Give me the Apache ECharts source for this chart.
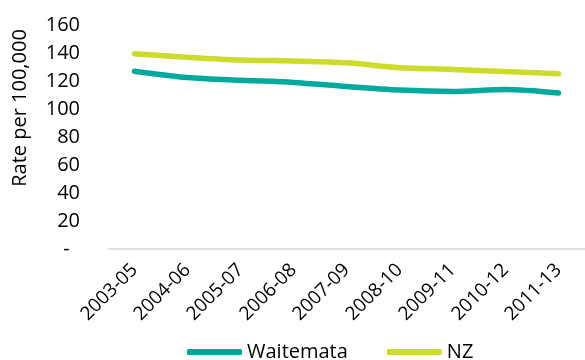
<!DOCTYPE html>
<html>
<head>
<meta charset="utf-8">
<script src="https://cdn.jsdelivr.net/npm/echarts@6/dist/echarts.min.js"></script>
<style>html,body{margin:0;padding:0;background:#fff}#c{width:585px;height:360px}</style>
</head>
<body>
<div id="c"></div>
<script>
const categories = ['2003-05','2004-06','2005-07','2006-08','2007-09','2008-10','2009-11','2010-12','2011-13'];
const waitemata = [127, 122.5, 120.5, 119, 116, 113.5, 112.5, 114, 111.5];
const nz = [139.5, 137, 135, 134.3, 133, 129.5, 128.3, 126.7, 125.2];
const yTicks = [0, 20, 40, 60, 80, 100, 120, 140, 160];
const yTitle = 'Rate per 100,000';

const FONT = 'Open Sans';
const chart = echarts.init(document.getElementById('c'), null, {renderer: 'canvas'});
chart.setOption({
  animation: false,
  textStyle: {fontFamily: FONT},
  grid: {left: 108, right: 0, top: 25, bottom: 111, containLabel: false},
  legend: {
    left: 182, top: 337,
    itemWidth: 55, itemHeight: 6, itemGap: 39,
    icon: 'roundRect',
    textStyle: {fontFamily: FONT, fontSize: 20, color: '#000'},
    data: ['Waitemata', 'NZ']
  },
  graphic: [{
    type: 'text', x: 20, y: 108, rotation: Math.PI / 2,
    style: {text: yTitle, fontFamily: FONT, fontSize: 20, fill: '#000', align: 'center', verticalAlign: 'middle'}
  }],
  xAxis: {
    type: 'category', data: categories, boundaryGap: true,
    axisLine: {lineStyle: {color: '#d9d9d9', width: 1.5}},
    axisTick: {show: false},
    axisLabel: {rotate: 45, fontSize: 19, color: '#000', margin: 18, interval: 0, fontFamily: FONT,
      padding: [20, 0, 0, 0]}
  },
  yAxis: {
    type: 'value', min: yTicks[0], max: yTicks[yTicks.length - 1], interval: 20,
    splitLine: {show: false},
    axisLine: {show: false}, axisTick: {show: false},
    axisLabel: {fontSize: 20, color: '#000', margin: 28, fontFamily: FONT,
      formatter: v => v === 0 ? '-  ' : String(v)}
  },
  series: [
    {name: 'Waitemata', type: 'line', data: waitemata, smooth: 0.3, symbol: 'none',
      itemStyle: {color: '#00A99E'}, lineStyle: {width: 5.5, color: '#00A99E', cap: 'round'}},
    {name: 'NZ', type: 'line', data: nz, smooth: 0.3, symbol: 'none',
      itemStyle: {color: '#CDDB2A'}, lineStyle: {width: 5.5, color: '#CDDB2A', cap: 'round'}}
  ]
});
</script>
</body>
</html>
